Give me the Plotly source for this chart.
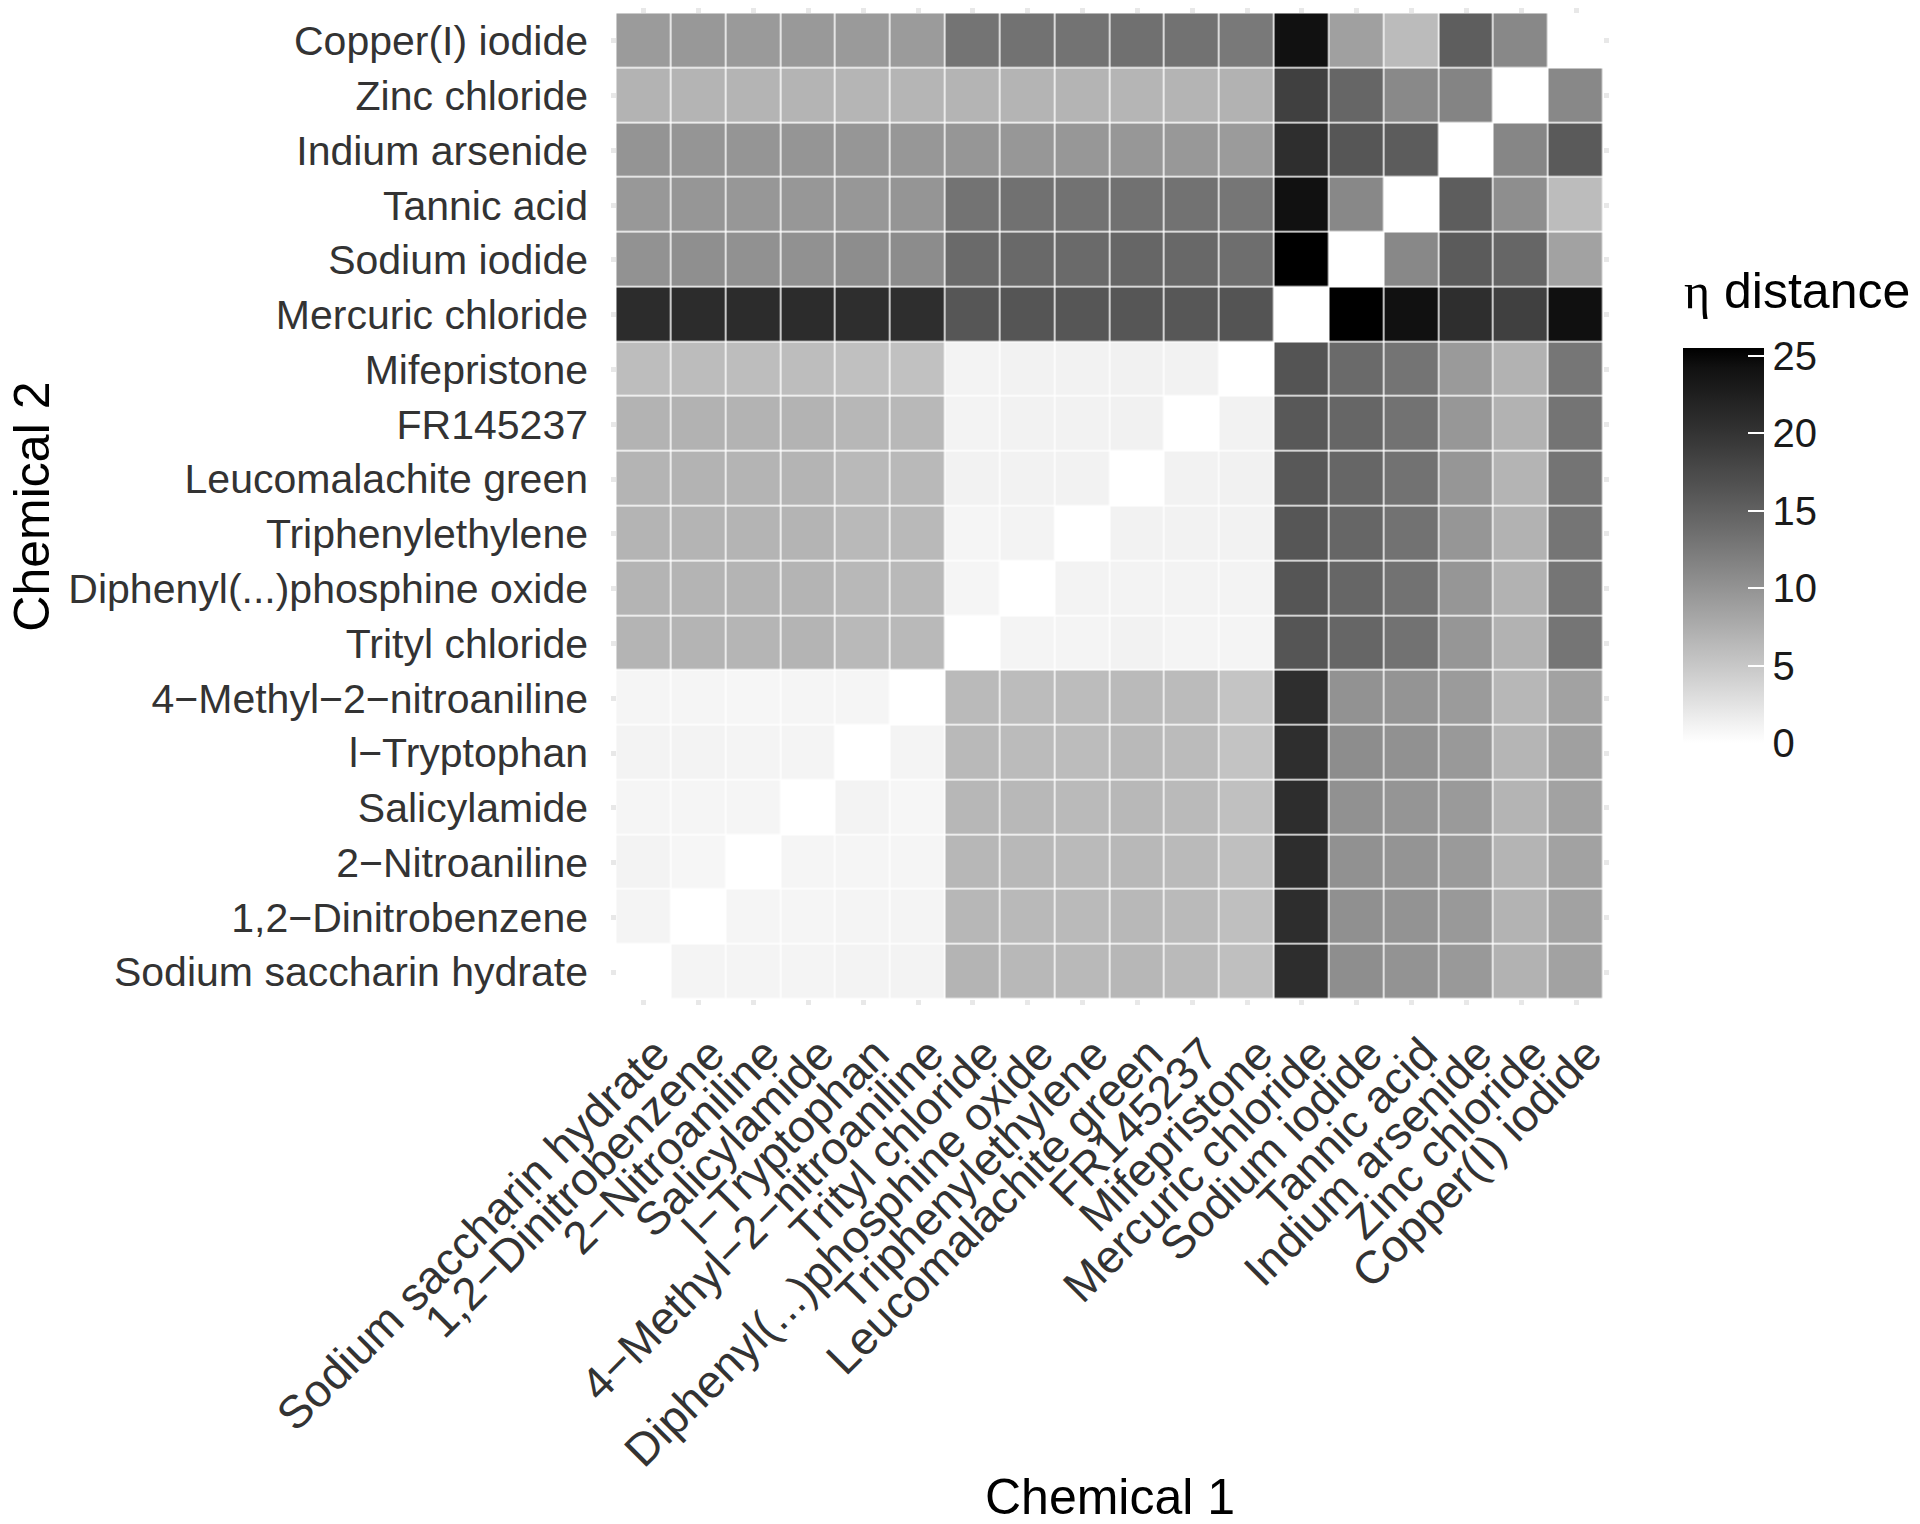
import plotly.graph_objects as go
import numpy as np

chemicals = [
    "Sodium saccharin hydrate", "1,2\u2212Dinitrobenzene", "2\u2212Nitroaniline",
    "Salicylamide", "l\u2212Tryptophan", "4\u2212Methyl\u22122\u2212nitroaniline",
    "Trityl chloride", "Diphenyl(...)phosphine oxide", "Triphenylethylene",
    "Leucomalachite green", "FR145237", "Mifepristone", "Mercuric chloride",
    "Sodium iodide", "Tannic acid", "Indium arsenide", "Zinc chloride",
    "Copper(I) iodide",
]

# eta distance; row = Chemical 2 (bottom to top), column = Chemical 1 (left to right)
row_sodium_saccharin = [0, 1.0, 1.0, 1.0, 1.1, 1.1, 6.8, 6.5, 6.4, 6.6, 6.3, 5.8, 20.8, 10.5, 10.0, 9.4, 7.0, 8.5]
row_dinitrobenzene = [1.0, 0, 0.9, 0.9, 1.0, 1.0, 6.6, 6.4, 6.3, 6.5, 6.3, 5.8, 20.8, 10.3, 10.0, 9.4, 6.9, 8.5]
row_nitroaniline = [1.1, 0.8, 0, 0.9, 0.9, 0.9, 6.6, 6.5, 6.3, 6.5, 6.3, 5.8, 20.8, 10.2, 9.9, 9.3, 6.8, 8.5]
row_salicylamide = [0.9, 0.9, 0.9, 0, 1.1, 0.8, 6.6, 6.5, 6.3, 6.5, 6.3, 5.7, 20.8, 10.2, 9.8, 9.3, 6.8, 8.5]
row_tryptophan = [1.1, 1.1, 1.0, 1.0, 0, 1.0, 6.4, 6.2, 6.1, 6.4, 6.2, 5.4, 20.7, 10.6, 10.2, 9.4, 6.7, 8.7]
row_methyl_nitroaniline = [0.9, 0.9, 0.8, 0.9, 0.9, 0, 6.3, 6.1, 6.1, 6.3, 6.2, 5.3, 20.7, 10.1, 9.9, 9.2, 6.6, 8.5]
row_trityl = [6.8, 6.8, 6.7, 6.8, 6.4, 6.4, 0, 1.0, 1.0, 1.2, 1.0, 1.0, 16.3, 14.5, 13.2, 9.7, 7.0, 12.9]
row_diphenyl = [6.8, 6.8, 6.8, 6.8, 6.5, 6.4, 0.9, 0, 1.1, 1.1, 1.1, 1.1, 16.3, 14.5, 13.2, 9.7, 7.0, 12.9]
row_triphenylethylene = [6.8, 6.8, 6.8, 6.8, 6.4, 6.4, 0.9, 1.1, 0, 1.2, 1.2, 1.2, 16.2, 14.5, 13.2, 9.7, 7.0, 12.9]
row_leucomalachite = [6.8, 6.9, 6.8, 6.8, 6.4, 6.4, 1.2, 1.2, 1.2, 0, 1.2, 1.3, 15.9, 14.5, 13.2, 9.7, 6.8, 13.0]
row_fr145237 = [6.9, 7.0, 6.9, 6.9, 6.6, 6.5, 1.1, 1.2, 1.2, 1.3, 0, 1.2, 15.9, 14.5, 13.2, 9.6, 7.0, 13.0]
row_mifepristone = [6.0, 6.1, 6.0, 6.0, 5.7, 5.6, 1.1, 1.2, 1.2, 1.3, 1.2, 0, 16.4, 14.0, 13.0, 9.3, 7.0, 12.8]
row_mercuric = [20.9, 20.9, 20.9, 20.9, 20.6, 20.6, 16.2, 16.3, 16.2, 16.1, 16.0, 16.4, 0, 25.5, 24.2, 20.6, 18.6, 24.3]
row_sodium_iodide = [10.1, 10.4, 10.2, 10.2, 10.6, 10.7, 14.0, 14.1, 14.0, 14.5, 14.2, 13.6, 25.5, 0, 11.1, 15.6, 14.4, 8.5]
row_tannic = [9.5, 9.7, 9.6, 9.6, 9.6, 9.8, 13.1, 13.3, 13.2, 13.3, 13.2, 12.8, 24.2, 11.1, 0, 15.4, 10.5, 6.1]
row_indium = [9.9, 9.8, 9.8, 9.8, 9.7, 9.6, 9.7, 9.6, 9.6, 9.6, 9.5, 9.2, 20.6, 16.1, 15.5, 0, 11.3, 15.7]
row_zinc = [6.9, 6.8, 6.8, 6.8, 6.7, 6.7, 6.8, 6.8, 6.8, 6.7, 6.8, 7.0, 18.6, 14.5, 11.0, 11.5, 0, 11.1]
row_copper = [9.2, 9.5, 9.3, 9.4, 9.3, 9.2, 13.0, 13.2, 13.1, 13.4, 13.2, 12.6, 24.2, 8.7, 6.2, 15.3, 11.1, 0]

z = [row_sodium_saccharin, row_dinitrobenzene, row_nitroaniline, row_salicylamide,
     row_tryptophan, row_methyl_nitroaniline, row_trityl, row_diphenyl,
     row_triphenylethylene, row_leucomalachite, row_fr145237, row_mifepristone,
     row_mercuric, row_sodium_iodide, row_tannic, row_indium, row_zinc, row_copper]

colorbar_ticks = [0, 5, 10, 15, 20, 25]


# white -> black gradient interpolated in CIE Lab lightness (like ggplot2)
def lab_gray(L):
    if L > 8:
        Y = ((L + 16) / 116) ** 3
    else:
        Y = L / 903.3
    s = 12.92 * Y if Y <= 0.0031308 else 1.055 * Y ** (1 / 2.4) - 0.055
    g = int(round(max(0, min(1, s)) * 255))
    return f"rgb({g},{g},{g})"


colorscale = [[t, lab_gray(100 * (1 - t))] for t in np.linspace(0, 1, 21)]

FONT = "Liberation Sans, Arial, sans-serif"

fig = go.Figure()
fig.add_trace(go.Heatmap(
    x=chemicals, y=chemicals, z=z,
    colorscale=colorscale, zmin=0, zmax=25.5,
    xgap=1.5, ygap=1.5,
    colorbar=dict(
        thickness=81, thicknessmode="pixels",
        len=395, lenmode="pixels",
        x=1.0745, xanchor="left", y=0.2628, yanchor="bottom",
        outlinewidth=0, xpad=0, ypad=0,
        tickvals=colorbar_ticks,
        tickprefix="\u00a0\u200a",
        ticks="inside", ticklen=16, tickwidth=2, tickcolor="white",
        tickfont=dict(family=FONT, size=40, color="#1a1a1a"),
    ),
))

axis_common = dict(
    type="category",
    range=[-0.6, 17.6],
    tickmode="array", tickvals=chemicals, ticktext=chemicals,
    showgrid=False, zeroline=False, showline=False,
    ticks="inside", ticklen=5, tickwidth=4.5, tickcolor="#e8e8e8",
    mirror="ticks",
)

fig.update_layout(
    width=1912, height=1516,
    margin=dict(l=603, r=311, t=0, b=519, autoexpand=False),
    paper_bgcolor="white", plot_bgcolor="white",
    xaxis=dict(**axis_common, tickangle=-45, ticklabelstandoff=12, ticklabelshift=12,
               tickfont=dict(family=FONT, size=46, color="#333333")),
    yaxis=dict(**axis_common, ticklabelstandoff=22,
               tickfont=dict(family=FONT, size=41, color="#333333")),
    annotations=[
        dict(text="Chemical 1", xref="paper", yref="paper", x=0.5, y=-0.493,
             xanchor="center", yanchor="middle", showarrow=False, borderpad=0,
             font=dict(family=FONT, size=50, color="#000000")),
        dict(text="Chemical 2", xref="paper", yref="paper", x=-0.581, y=0.5,
             xanchor="center", yanchor="middle", textangle=-90, showarrow=False,
             borderpad=0,
             font=dict(family=FONT, size=50, color="#000000")),
        dict(text="<span style='font-family:Liberation Serif'>\u03b7</span> distance",
             xref="paper", yref="paper", x=1.0745, y=0.716,
             xanchor="left", yanchor="middle", showarrow=False, borderpad=0,
             font=dict(family=FONT, size=50, color="#000000")),
    ],
)

fig.write_html("out.html")
